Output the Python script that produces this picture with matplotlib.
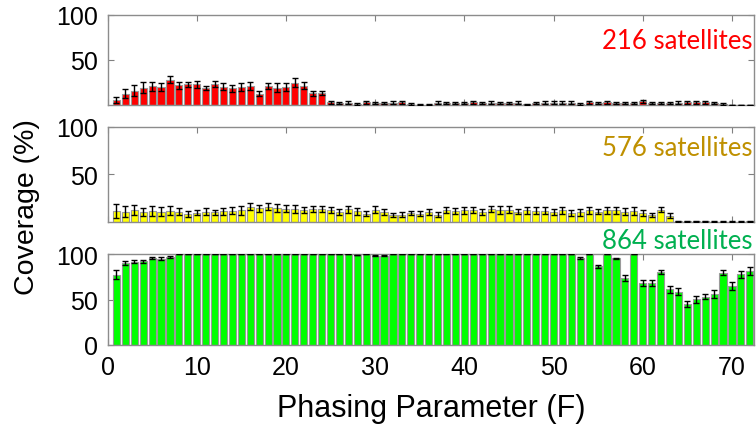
#!/usr/bin/env python3
"""Coverage vs phasing parameter F for three constellation sizes (mean ± error)."""

import numpy as np

import matplotlib
matplotlib.use("Agg")
import matplotlib.pyplot as plt

F = list(range(1, 73))

cov_216 = [5.5, 12.5, 16, 19, 21, 20, 28, 22, 23, 23, 19, 23.5, 20.5, 18.5, 20, 21, 12.5, 21,
           19, 20, 24.5, 21.5, 13, 13, 3, 2, 2.5, 1.5, 3, 2, 2, 2.5, 3, 1.5, 0.3, 0.5,
           2.6, 2.2, 1.9, 2.2, 3, 2.2, 2.6, 2.2, 2.2, 2.6, 0.7, 1.9, 2.6, 2.6, 2.6, 2.6, 1.1, 2.8,
           2.2, 3, 2.2, 2.6, 2.6, 4, 2.6, 2.2, 2.2, 2.6, 3, 3, 3, 1.9, 1.1, 0.2, 0.2, 0.2]
err_216 = [3, 5, 6, 6, 5, 4, 4, 4, 3, 3.7, 2.5, 3.3, 4, 3.7, 4, 4.8, 3, 3,
           5, 4.4, 5, 3.5, 2.6, 2.4, 1.5, 1.2, 1.5, 1, 1.5, 1.2, 1.2, 1.5, 1.5, 1, 0.4, 0.4,
           1.5, 1.5, 1.2, 1.2, 1.5, 1.2, 1.5, 1.2, 1.2, 1.5, 0.6, 1.2, 1.5, 1.5, 1.5, 1.5, 0.6, 1.5,
           1.2, 1.5, 1.2, 1.2, 1.2, 2, 1.2, 1.2, 1.2, 1.5, 1.5, 1.5, 1.5, 1.2, 0.8, 0.3, 0.3, 0.3]

cov_576 = [11.2, 10.9, 12.3, 10.5, 11.6, 10.9, 11.9, 10.9, 8.4, 9.8, 10.9, 10.2, 11.2, 11.9,
           12.3, 16.1, 14.4, 16.1, 15, 14, 13.7, 12.3, 13.7, 13.7, 12.6, 10.2, 13.3, 11.2, 8.8,
           13, 10.5, 7.4, 7.7, 9.5, 8.8, 10.5, 7.7, 12.3, 11.2, 12.3, 12.3, 10.5, 14, 12.3, 13,
           10.9, 12.3, 11.9, 11.9, 10.2, 12.3, 9.8, 10.2, 12.3, 10.9, 12.3, 12.3, 10.9, 11.6, 9.5,
           7.4, 13, 6.7, 0.8, 0.8, 0.6, 0.6, 0.4, 0.4, 0.5, 0.5, 0.8]
err_576 = [7.4, 5.6, 5.4, 4.2, 5, 4.7, 4.4, 4, 3.3, 2.8, 3.5, 2.8, 3.5, 4,
           4.5, 3.5, 3.5, 4, 4, 4, 4, 3, 3.5, 3.5, 3.5, 3, 3.5, 3.5, 3,
           3.5, 3, 2.5, 2.5, 2.5, 2.5, 3, 2.5, 3, 3, 3.5, 3, 3.5, 3, 4, 3.5,
           3, 3.5, 3.5, 3.5, 3, 3.5, 3, 3.5, 3.5, 3, 3.5, 3.5, 3.5, 4, 3,
           2, 3, 2.5, 0.5, 0.5, 0.5, 0.5, 0.5, 0.5, 0.5, 0.5, 0.5]

cov_864 = [77.3, 90.1, 91.6, 91.9, 95.6, 94.9, 96.7] + [100] * 20 + [98.9, 100, 98.2, 98] \
    + [100] * 21 + [95.6, 100, 86.4, 100, 95.2, 73.6, 100, 67.8, 67.8, 80.2, 61.2, 58.6,
                    45, 50.2, 53.1, 56, 79.5, 64.8, 77.7, 81.3]
err_864 = [4.6, 2, 2, 2, 1.5, 1.5, 1] + [0] * 20 + [0.5, 0, 0.5, 0.5] \
    + [0] * 21 + [0.8, 0, 2, 0, 0.8, 3, 0, 3.5, 3.5, 2.5, 4, 3.5,
                  3, 3.5, 3, 4, 3, 4.5, 4, 4.5]

PANELS = [
    ("216 satellites", cov_216, err_216, "#ff0000", "#ff0000"),
    ("576 satellites", cov_576, err_576, "#ffff00", "#bf9000"),
    ("864 satellites", cov_864, err_864, "#00ff00", "#00b050"),
]
# axes rectangles in figure fractions (left, bottom, width, height)
RECTS = [(0.1422, 0.7518, 0.8555, 0.2108),
         (0.1422, 0.4778, 0.8555, 0.2225),
         (0.1422, 0.1897, 0.8555, 0.2131)]
LABEL_Y = [0.72, 0.78, 1.15]

plt.rcParams["font.family"] = ["Liberation Sans", "DejaVu Sans"]


def main():
    fig = plt.figure(figsize=(7.56, 4.27), dpi=100)
    x = np.array(F)
    for i, (name, cov, err, fc, tc) in enumerate(PANELS):
        ax = fig.add_axes(RECTS[i])
        ax.bar(x, cov, width=0.8, color=fc, edgecolor="#9a9a9a", lw=0.8, zorder=2)
        ax.errorbar(x, cov, yerr=err, fmt="none", ecolor="black", elinewidth=1.0,
                    capsize=2.2, capthick=1.0, zorder=3)
        ax.set_xlim(0, 72.5)
        ax.set_ylim(0, 100)
        ax.set_xticks(range(0, 80, 10))
        if i == 2:
            ax.set_yticks([0, 50, 100])
            ax.set_xlabel("Phasing Parameter (F)", fontsize=22, labelpad=10)
        else:
            ax.set_yticks([50, 100])
            ax.set_xticklabels([])
        ax.tick_params(direction="in", length=4.5, width=0.8, color="#808080",
                       top=True, right=True, labelsize=18)
        ax.tick_params(axis="y", pad=7)
        ax.tick_params(axis="x", pad=7)
        for s in ax.spines.values():
            s.set_color("#8c8c8c")
            s.set_linewidth(1.0)
        ax.text(0.997, LABEL_Y[i], name, transform=ax.transAxes, ha="right", va="center",
                color=tc, fontsize=18.5, family=["Lato", "DejaVu Sans"])
    fig.text(0.036, 0.515, "Coverage (%)", rotation=90, ha="center", va="center",
             fontsize=20.5)
    fig.savefig("out.png", dpi=100)


if __name__ == "__main__":
    main()
